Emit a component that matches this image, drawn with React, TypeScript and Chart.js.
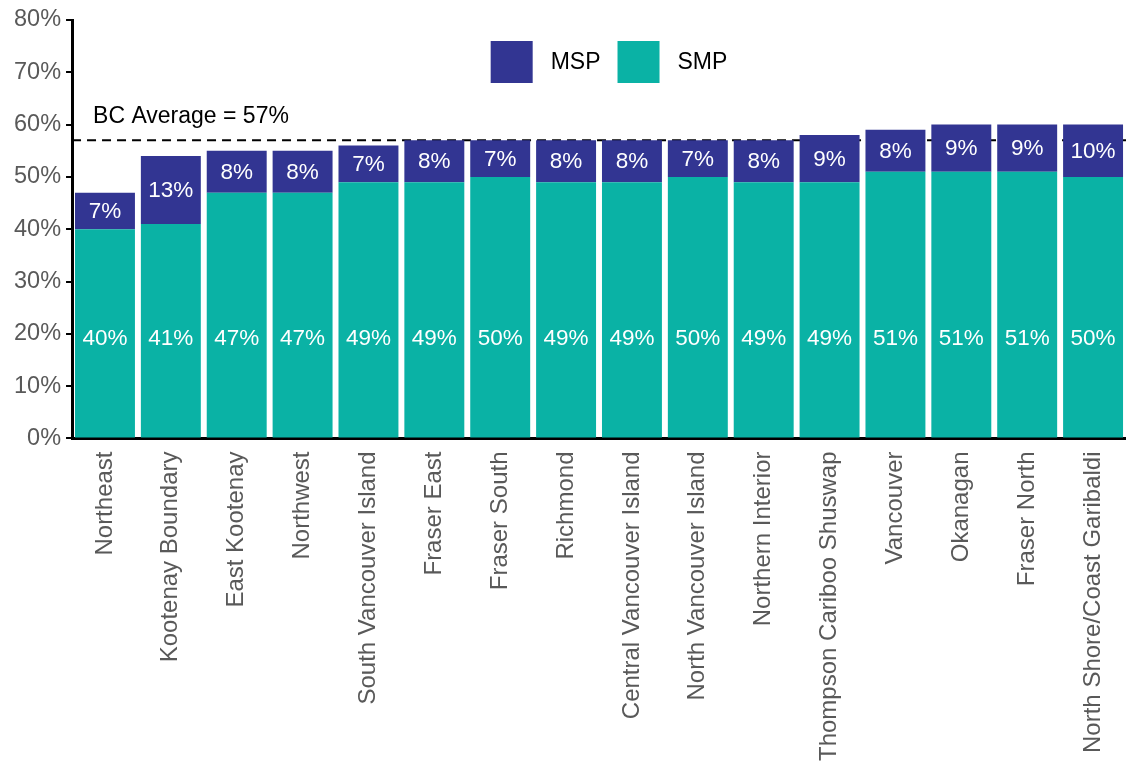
import React, { useEffect, useRef } from "react";
import { Chart, registerables } from "chart.js";

Chart.register(...registerables);

const regions = [
  "Northeast",
  "Kootenay Boundary",
  "East Kootenay",
  "Northwest",
  "South Vancouver Island",
  "Fraser East",
  "Fraser South",
  "Richmond",
  "Central Vancouver Island",
  "North Vancouver Island",
  "Northern Interior",
  "Thompson Cariboo Shuswap",
  "Vancouver",
  "Okanagan",
  "Fraser North",
  "North Shore/Coast Garibaldi",
];
const smpValues = [40, 41, 47, 47, 49, 49, 50, 49, 49, 50, 49, 49, 51, 51, 51, 50];
const mspValues = [7, 13, 8, 8, 7, 8, 7, 8, 8, 7, 8, 9, 8, 9, 9, 10];
const bcAverage = 57;
const bcAverageLabel = "BC Average = 57%";
const smpLabelLevel = 19.1;
const yTicks = [0, 10, 20, 30, 40, 50, 60, 70, 80];

const MSP_COLOR = "#323592";
const SMP_COLOR = "#0AB2A5";
const FONT = "'Liberation Sans', Arial, sans-serif";

const overlayPlugin = {
  id: "overlay",
  beforeDatasetsDraw(chart: any) {
    const { ctx, chartArea, scales } = chart;
    const y = scales.y.getPixelForValue(bcAverage);
    ctx.save();
    ctx.strokeStyle = "#000";
    ctx.lineWidth = 2;
    ctx.setLineDash([9, 6]);
    ctx.beginPath();
    ctx.moveTo(chartArea.left, y);
    ctx.lineTo(chartArea.right, y);
    ctx.stroke();
    ctx.restore();
  },
  afterDatasetsDraw(chart: any) {
    const { ctx, chartArea, scales } = chart;
    ctx.save();
    // average label
    ctx.fillStyle = "#000";
    ctx.font = `23px ${FONT}`;
    ctx.textAlign = "left";
    ctx.textBaseline = "middle";
    ctx.fillText(bcAverageLabel, chartArea.left + 21, scales.y.getPixelForValue(bcAverage) - 24);

    // value labels
    ctx.fillStyle = "#fff";
    ctx.font = `22.5px ${FONT}`;
    ctx.textAlign = "center";
    const smpMeta = chart.getDatasetMeta(0);
    const mspMeta = chart.getDatasetMeta(1);
    const ySmp = scales.y.getPixelForValue(smpLabelLevel);
    smpMeta.data.forEach((el: any, i: number) => {
      ctx.fillText(`${smpValues[i]}%`, el.x, ySmp);
    });
    mspMeta.data.forEach((el: any, i: number) => {
      ctx.fillText(`${mspValues[i]}%`, el.x, (el.y + el.base) / 2 + 1);
    });

    // legend
    const items = [
      { label: chart.data.datasets[1].label, color: MSP_COLOR },
      { label: chart.data.datasets[0].label, color: SMP_COLOR },
    ];
    const box = 42;
    const gapText = 18;
    const gapItem = 17;
    ctx.font = `23px ${FONT}`;
    const widths = items.map((it) => ctx.measureText(it.label).width);
    let total = 0;
    items.forEach((_, i) => {
      total += box + gapText + widths[i] + (i < items.length - 1 ? gapItem : 0);
    });
    let x = (chartArea.left + chartArea.right) / 2 + 10 - total / 2;
    const cy = chartArea.top + 42;
    items.forEach((it, i) => {
      ctx.fillStyle = it.color;
      ctx.fillRect(x, cy - box / 2, box, box);
      ctx.fillStyle = "#000";
      ctx.textAlign = "left";
      ctx.fillText(it.label, x + box + gapText, cy + 1);
      x += box + gapText + widths[i] + gapItem;
    });
    ctx.restore();
  },
};

export default function App() {
  const canvasRef = useRef<HTMLCanvasElement | null>(null);

  useEffect(() => {
    if (!canvasRef.current) return;
    const chart = new Chart(canvasRef.current, {
      type: "bar",
      data: {
        labels: regions,
        datasets: [
          {
            label: "SMP",
            data: smpValues,
            backgroundColor: SMP_COLOR,
            barPercentage: 0.91,
            categoryPercentage: 1,
          },
          {
            label: "MSP",
            data: mspValues,
            backgroundColor: MSP_COLOR,
            barPercentage: 0.91,
            categoryPercentage: 1,
          },
        ],
      },
      options: {
        animation: false,
        responsive: true,
        maintainAspectRatio: false,
        layout: { padding: { top: 20, left: 9, right: 0, bottom: -12 } },
        plugins: {
          legend: { display: false },
          tooltip: { enabled: false },
        },
        scales: {
          x: {
            stacked: true,
            afterFit(scale: any) {
              scale.paddingRight = 0;
            },
            grid: { display: true, drawOnChartArea: false, drawTicks: false },
            border: { display: true, color: "#000", width: 3 },
            ticks: {
              autoSkip: false,
              minRotation: 90,
              maxRotation: 90,
              padding: 13,
              color: "#595959",
              font: { family: FONT, size: 24 },
            },
          },
          y: {
            stacked: true,
            min: 0,
            max: 80,
            afterBuildTicks(axis: any) {
              axis.ticks = yTicks.map((v) => ({ value: v }));
            },
            grid: {
              display: true,
              drawOnChartArea: false,
              drawTicks: true,
              tickLength: 6,
              color: "#000",
              lineWidth: 2,
            },
            border: { display: true, color: "#000", width: 3 },
            ticks: {
              padding: 5,
              color: "#595959",
              font: { family: FONT, size: 23.5 },
              callback: (v: any) => `${v}%`,
            },
          },
        },
      },
      plugins: [overlayPlugin],
    });
    return () => chart.destroy();
  }, []);

  return (
    <div style={{ position: "absolute", left: 0, top: 0, width: 1126, height: 762 }}>
      <canvas ref={canvasRef} />
    </div>
  );
}
